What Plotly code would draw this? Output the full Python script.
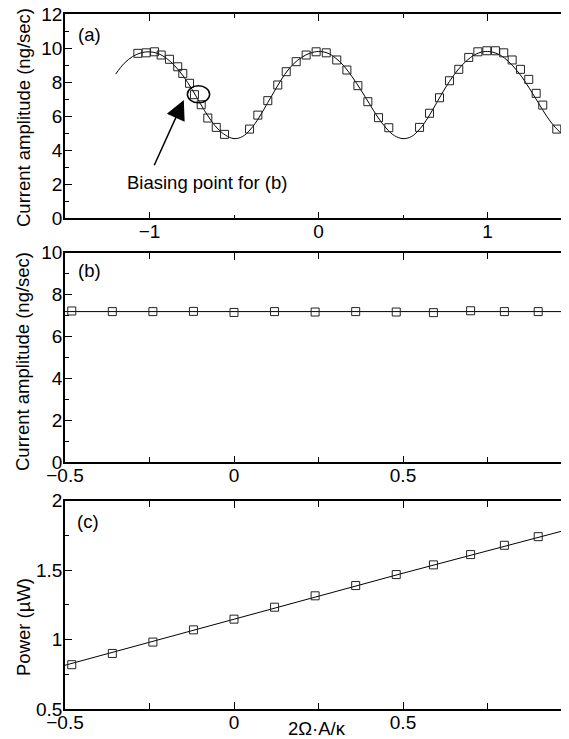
import plotly.graph_objects as go

# ---------------- data ----------------
# Panel (a): measured points
a_x = [-1.069, -1.02, -0.970, -0.931, -0.882, -0.833, -0.803, -0.763, -0.734, -0.694,
       -0.655, -0.605, -0.556, -0.408, -0.359, -0.30, -0.241, -0.191, -0.132, -0.073,
       -0.014, 0.046, 0.108, 0.168, 0.233, 0.292, 0.355, 0.416, 0.598, 0.657,
       0.716, 0.775, 0.830, 0.889, 0.943, 0.996, 1.047, 1.096, 1.146, 1.195,
       1.244, 1.288, 1.327, 1.410]
a_y = [9.69, 9.72, 9.78, 9.59, 9.34, 8.90, 8.51, 7.93, 7.26, 6.67,
       5.89, 5.34, 4.93, 5.24, 6.06, 6.91, 7.83, 8.61, 9.20, 9.59,
       9.78, 9.72, 9.30, 8.71, 7.79, 6.85, 5.91, 5.32, 5.34, 6.17,
       7.08, 8.08, 8.75, 9.45, 9.78, 9.84, 9.84, 9.72, 9.30, 8.75,
       8.16, 7.34, 6.65, 5.24]
# Panel (a): fitted curve
fit_x = [-1.2, -1.15, -1.1, -1.05, -1.0, -0.95, -0.9, -0.85, -0.8, -0.75, -0.7, -0.65,
         -0.6, -0.55, -0.5, -0.45, -0.4, -0.35, -0.3, -0.25, -0.2, -0.15, -0.1, -0.05,
         0.0, 0.05, 0.1, 0.15, 0.2, 0.25, 0.3, 0.35, 0.4, 0.45, 0.5, 0.55, 0.6, 0.65,
         0.7, 0.75, 0.8, 0.85, 0.9, 0.95, 1.0, 1.05, 1.1, 1.15, 1.2, 1.25, 1.3, 1.35,
         1.4, 1.45, 1.5]
fit_y = [8.47, 9.1, 9.5, 9.72, 9.78, 9.68, 9.4, 8.95, 8.35, 7.6, 6.75, 5.95,
         5.3, 4.88, 4.68, 4.8, 5.25, 5.95, 6.8, 7.65, 8.45, 9.05, 9.45, 9.7,
         9.8, 9.72, 9.42, 8.95, 8.3, 7.55, 6.75, 5.95, 5.3, 4.85, 4.68, 4.8, 5.25, 5.95,
         6.8, 7.65, 8.4, 9.0, 9.45, 9.72, 9.8, 9.7, 9.42, 8.95, 8.35, 7.6, 6.8, 6.0,
         5.35, 4.9, 4.7]

# Panels (b) and (c): shared x values
bc_x = [-0.48, -0.36, -0.24, -0.12, 0.0, 0.12, 0.24, 0.36, 0.48, 0.59, 0.70, 0.80, 0.90, 0.99]
b_y = [7.22, 7.19, 7.19, 7.20, 7.15, 7.19, 7.17, 7.19, 7.17, 7.14, 7.23, 7.19, 7.19, 7.23]
b_line_x = [-0.5, 1.0]
b_line_y = [7.19, 7.19]
c_y = [0.819, 0.900, 0.982, 1.070, 1.147, 1.233, 1.315, 1.389, 1.468, 1.538, 1.612, 1.679, 1.741, 1.801]
c_line_x = [-0.5, 0.0, 0.5, 1.0]
c_line_y = [0.815, 1.145, 1.478, 1.80]

# annotation helpers (data coords of panel a)
bias_center = (-0.71, 7.28)
bias_radius = (0.066, 0.5)

FONT = "Liberation Sans"
FS = 18.5
TFS = 19

fig = go.Figure()
mk = dict(symbol="square-open", size=8, color="#222", line=dict(width=1, color="#222"))

fig.add_trace(go.Scatter(x=fit_x, y=fit_y, mode="lines", line=dict(color="black", width=1, shape="spline"),
                         xaxis="x", yaxis="y", showlegend=False))
fig.add_trace(go.Scatter(x=a_x, y=a_y, mode="markers", marker=mk, xaxis="x", yaxis="y", showlegend=False))
fig.add_trace(go.Scatter(x=b_line_x, y=b_line_y, mode="lines", line=dict(color="black", width=1),
                         xaxis="x2", yaxis="y2", showlegend=False))
fig.add_trace(go.Scatter(x=bc_x, y=b_y, mode="markers", marker=mk, xaxis="x2", yaxis="y2", showlegend=False))
fig.add_trace(go.Scatter(x=c_line_x, y=c_line_y, mode="lines", line=dict(color="black", width=1),
                         xaxis="x3", yaxis="y3", showlegend=False))
fig.add_trace(go.Scatter(x=bc_x, y=c_y, mode="markers", marker=mk, xaxis="x3", yaxis="y3", showlegend=False))

def ax_style(**kw):
    d = dict(showgrid=False, zeroline=False, showline=True, linecolor="black", linewidth=1.6,
             mirror="ticks", ticks="inside", ticklen=7, tickwidth=1.3, tickcolor="black",
             ticklabeloverflow="allow",
             tickfont=dict(family=FONT, size=TFS, color="black"))
    d.update(kw)
    return d

def xa(**kw):
    return ax_style(ticklabelstandoff=-5, **kw)

def ya(**kw):
    return ax_style(ticklabelstandoff=-3, **kw)

# page body has an 8px margin: figure pixel = page pixel - OFF
OFF = 8
W, H = 569 - OFF, 739 - OFF
L, R, T, B = 65 - OFF, 0, 14 - OFF, 30
ph = H - T - B  # 695
PW = W - L - R  # 504

def frac(page_px):
    return min(1.0, max(0.0, (T + ph - (page_px - OFF)) / ph))

def yfrac(page_px):
    return (T + ph - (page_px - OFF)) / ph

def xfrac(page_px):
    return (page_px - OFF - L) / PW

def dom(top_px, bot_px):
    return [frac(bot_px), frac(top_px)]

fig.update_layout(
    width=W, height=H, margin=dict(l=L, r=R, t=T, b=B, autoexpand=False),
    paper_bgcolor="white", plot_bgcolor="white",
    font=dict(family=FONT, size=FS, color="black"),
    xaxis=xa(range=[-1.5, -1.5 + PW / 169], tickvals=[-1, 0, 1], anchor="y",
             minor=dict(ticks="inside", ticklen=4, tickwidth=1.2, dtick=0.5, tick0=0, tickcolor="black")),
    yaxis=ya(range=[0, 12], dtick=2, domain=dom(14, 218.3), anchor="x",
             minor=dict(ticks="inside", ticklen=4, tickwidth=1.2, dtick=1, tickcolor="black")),
    xaxis2=xa(range=[-0.5, -0.5 + PW / 338], tickvals=[-0.5, 0, 0.5, 1], ticktext=["−0.5", "0", "0.5", "1"], anchor="y2",
              minor=dict(ticks="inside", ticklen=6, tickwidth=1.2, dtick=0.25, tick0=0, tickcolor="black")),
    yaxis2=ya(range=[0, 10], dtick=2, domain=dom(252.7, 462.3), anchor="x2",
              minor=dict(ticks="inside", ticklen=4, tickwidth=1.2, dtick=1, tickcolor="black")),
    xaxis3=xa(range=[-0.5, -0.5 + PW / 338], tickvals=[-0.5, 0, 0.5, 1], ticktext=["−0.5", "0", "0.5", "1"], anchor="y3",
              minor=dict(ticks="inside", ticklen=6, tickwidth=1.2, dtick=0.25, tick0=0, tickcolor="black")),
    yaxis3=ya(range=[0.5, 2], tickvals=[0.5, 1, 1.5, 2], ticktext=["0.5", "1", "1.5", "2"], domain=dom(500.7, 709), anchor="x3",
              minor=dict(ticks="inside", ticklen=4, tickwidth=1.2, dtick=0.25, tick0=0, tickcolor="black")),
)

ann = []
for lab, px, py in [("(a)", 89, 35), ("(b)", 89, 270), ("(c)", 88, 521)]:
    ann.append(dict(xref="paper", yref="paper", x=xfrac(px), y=yfrac(py), text=lab,
                    xanchor="center", yanchor="middle", showarrow=False, font=dict(family=FONT, size=FS)))

for txt, py in [("Current amplitude (ng/sec)", 118), ("Current amplitude (ng/sec)", 362), ("Power (µW)", 627)]:
    ann.append(dict(xref="paper", yref="paper", x=xfrac(23), y=yfrac(py), text=txt, textangle=-90,
                    xanchor="center", yanchor="middle", showarrow=False, font=dict(family=FONT, size=FS)))

ann.append(dict(xref="paper", yref="paper", x=xfrac(317), y=yfrac(728), text="2Ω·A/κ",
                xanchor="center", yanchor="middle", showarrow=False, font=dict(family=FONT, size=FS)))
# biasing point text + arrow
ann.append(dict(xref="x", yref="y", x=-0.66, y=2.13, text="Biasing point for (b)",
                xanchor="center", yanchor="middle", showarrow=False, font=dict(family=FONT, size=FS)))
ann.append(dict(xref="x", yref="y", x=-0.797, y=6.95, ax=-0.976, ay=3.03, axref="x", ayref="y",
                text="", showarrow=True, arrowhead=2, arrowsize=2.6, arrowwidth=1.5, arrowcolor="black"))
fig.update_layout(annotations=ann)

fig.add_shape(type="circle", xref="x", yref="y",
              x0=bias_center[0] - bias_radius[0], x1=bias_center[0] + bias_radius[0],
              y0=bias_center[1] - bias_radius[1], y1=bias_center[1] + bias_radius[1],
              line=dict(color="black", width=1.5))

fig.write_html("out.html")
